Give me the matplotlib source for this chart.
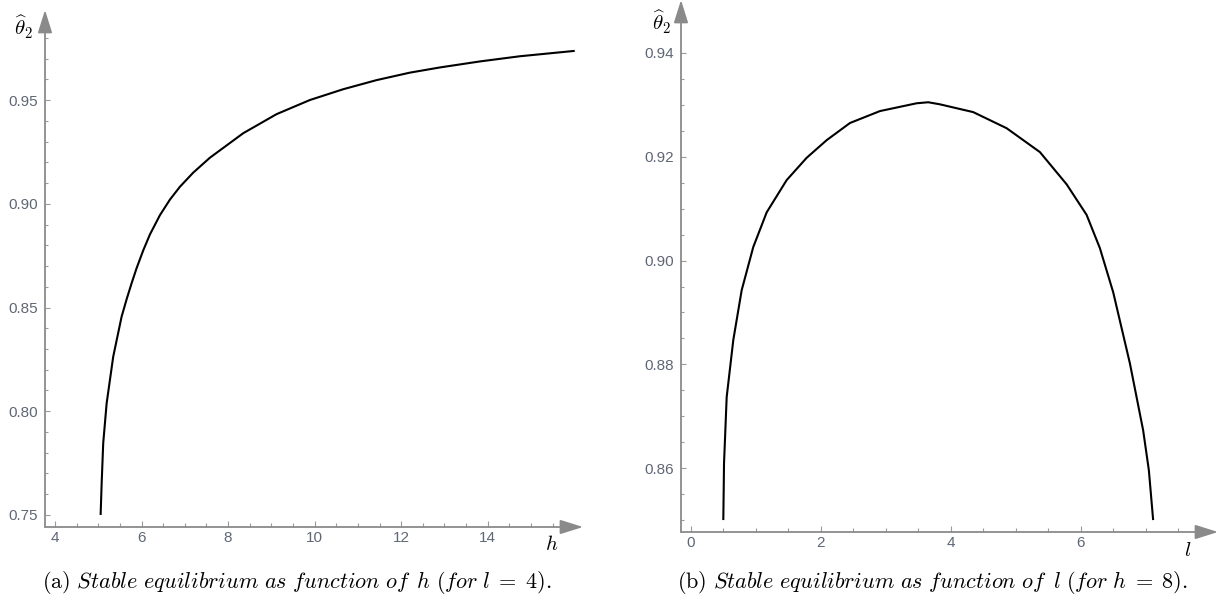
import numpy as np
import matplotlib
matplotlib.use("Agg")
import matplotlib.pyplot as plt
from matplotlib.ticker import FixedLocator

plt.rcParams['mathtext.fontset'] = 'cm'
plt.rcParams['font.family'] = ['Liberation Sans', 'DejaVu Sans']

# (a) theta_2 against h, l = 4
h_vals = [5.055, 5.079, 5.115, 5.194, 5.346, 5.540, 5.656, 5.771, 5.887, 6.039,
          6.194, 6.425, 6.656, 6.887, 7.194, 7.580, 8.349, 9.120, 9.889, 10.658,
          11.430, 12.199, 12.891, 13.815, 14.739, 16.009]
theta_h = [0.7500, 0.7653, 0.7846, 0.8038, 0.8263, 0.8456, 0.8540, 0.8617, 0.8690, 0.8775,
           0.8852, 0.8945, 0.9020, 0.9082, 0.9150, 0.9222, 0.9340, 0.9432, 0.9500, 0.9552,
           0.9596, 0.9632, 0.9657, 0.9686, 0.9711, 0.9737]

# (b) theta_2 against l, h = 8
l_vals = [0.497, 0.503, 0.508, 0.549, 0.651, 0.780, 0.958, 1.165, 1.472, 1.780,
          2.088, 2.446, 2.908, 3.472, 3.650, 3.831, 4.343, 4.857, 5.369, 5.780,
          6.088, 6.292, 6.497, 6.754, 6.958, 7.046, 7.112]
theta_l = [0.8500, 0.8558, 0.8609, 0.8737, 0.8847, 0.8943, 0.9026, 0.9093, 0.9155, 0.9198,
           0.9232, 0.9265, 0.9288, 0.9303, 0.9305, 0.9301, 0.9286, 0.9255, 0.9209, 0.9147,
           0.9088, 0.9024, 0.8939, 0.8802, 0.8673, 0.8596, 0.8500]

captions = [r"$\mathrm{(a)}\ \mathit{Stable\ equilibrium\ as\ function\ of}\,\ h\ \mathit{(for}\ l\;=\;4\mathit{).}$",
            r"$\mathrm{(b)}\ \mathit{Stable\ equilibrium\ as\ function\ of}\,\ l\ \mathit{(for}\ h\;=\;8\mathit{).}$"]

W, H = 1224, 608
fig = plt.figure(figsize=(W / 100, H / 100), dpi=100)

axis_col = '#9a9a9a'
label_col = '#5f6775'


def px_axes(x0, x1, ytop, ybot):
    return fig.add_axes([x0 / W, 1 - ybot / H, (x1 - x0) / W, (ybot - ytop) / H])


def style(ax, xmaj, xmin, ymaj, ymin, ylabels):
    for s in ax.spines.values():
        s.set_visible(False)
    ax.patch.set_alpha(0)
    ax.xaxis.set_major_locator(FixedLocator(xmaj))
    ax.xaxis.set_minor_locator(FixedLocator(xmin))
    ax.yaxis.set_major_locator(FixedLocator(ymaj))
    ax.yaxis.set_minor_locator(FixedLocator(ymin))
    ax.set_xticklabels([str(v) for v in xmaj])
    ax.set_yticklabels(ylabels)
    ax.tick_params(axis='x', which='major', direction='in', length=4.3, width=0.8,
                   color=axis_col, labelcolor=label_col, labelsize=11, pad=3)
    ax.tick_params(axis='x', which='minor', direction='in', length=2.6, width=0.8, color=axis_col)
    ax.tick_params(axis='y', which='major', direction='in', length=3.6, width=0.8,
                   color=axis_col, labelcolor=label_col, labelsize=11, pad=5)
    ax.tick_params(axis='y', which='minor', direction='in', length=2.4, width=0.8, color=axis_col)
    arrow = dict(arrowstyle='-|>,head_length=0.7,head_width=0.22', color='#8a8a8a',
                 lw=1.3, shrinkA=0, shrinkB=0, mutation_scale=20)
    ax.annotate('', xy=(1, 0), xytext=(0, 0), xycoords='axes fraction', arrowprops=arrow)
    ax.annotate('', xy=(0, 1), xytext=(0, 0), xycoords='axes fraction', arrowprops=arrow)


# left panel
ax1 = px_axes(45, 583, 10, 527)
ax1.plot(h_vals, theta_h, color='black', lw=1.5, solid_capstyle='butt', solid_joinstyle='round')
ax1.set_xlim(3.77, 16.2)
ax1.set_ylim(0.7442, 0.9934)
style(ax1, [4, 6, 8, 10, 12, 14], list(np.arange(4.5, 15.6, 0.5)),
      [0.75, 0.80, 0.85, 0.90, 0.95], list(np.arange(0.76, 0.985, 0.01)),
      ['0.75', '0.80', '0.85', '0.90', '0.95'])

# right panel
ax2 = px_axes(681, 1218, 0, 532)
ax2.plot(l_vals, theta_l, color='black', lw=1.5, solid_capstyle='butt', solid_joinstyle='round')
ax2.set_xlim(-0.154, 8.11)
ax2.set_ylim(0.8477, 0.9502)
style(ax2, [0, 2, 4, 6], list(np.arange(0.5, 7.6, 0.5)),
      [0.86, 0.88, 0.90, 0.92, 0.94], list(np.arange(0.85, 0.9355, 0.005)),
      ['0.86', '0.88', '0.90', '0.92', '0.94'])

# axis labels
fig.text(24 / W, 1 - 27 / H, r"$\widehat{\theta}_2$", fontsize=15, ha='center', va='center')
fig.text(662 / W, 1 - 22 / H, r"$\widehat{\theta}_2$", fontsize=15, ha='center', va='center')
fig.text(552 / W, 1 - 545 / H, r"$h$", fontsize=15, ha='center', va='center')
fig.text(1188 / W, 1 - 550 / H, r"$l$", fontsize=15, ha='center', va='center')

# captions
fig.text(297 / W, 1 - 583 / H, captions[0], fontsize=16, ha='center', va='center')
fig.text(932 / W, 1 - 583 / H, captions[1], fontsize=16, ha='center', va='center')

fig.savefig('out.png', dpi=100)
